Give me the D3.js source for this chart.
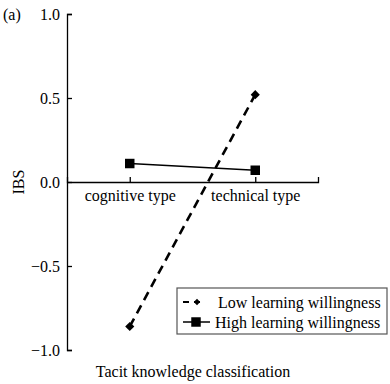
<!DOCTYPE html>
<html lang="en">
<head>
    <meta charset="utf-8">
    <title>IBS by tacit knowledge</title>
    <style>
        body {
            margin: 0;
            background: #fff;
            font-family: "Liberation Serif", "Times New Roman", serif;
        }
        .axis text {
            font-family: "Liberation Serif", serif;
            font-size: 16px;
            fill: #000;
        }
        .axis path, .axis line {
            stroke: #000;
            stroke-width: 1.3;
        }
    </style>
</head>
<body>
<svg class="chart"></svg>
<script src="https://d3js.org/d3.v7.min.js"></script>
<script>

  const width = 390;
  const height = 384;

  const categories = ["cognitive type", "technical type"];
  const lowValues = [-0.86, 0.52];
  const highValues = [0.11, 0.07];
  const seriesNames = ["Low learning willingness", "High learning willingness"];
  const yTicks = [-1.0, -0.5, 0.0, 0.5, 1.0];

  const svg = d3.select(".chart")
    .attr("width", width)
    .attr("height", height);

  const xScale = d3.scalePoint()
    .domain(categories)
    .range([67, 318])
    .padding(0.5);

  const yScale = d3.scaleLinear()
    .domain([-1, 1])
    .range([350, 14]);

  const minus = s => s.replace("-", "\u2212");

  // y axis
  svg.append("g")
    .attr("class", "axis")
    .attr("transform", "translate(67,0)")
    .call(d3.axisLeft(yScale)
      .tickValues(yTicks)
      .tickFormat(d => minus(d3.format(".1f")(d)))
      .tickSizeInner(-5)
      .tickSizeOuter(-5)
      .tickPadding(7))
    .selectAll("text")
    .attr("dy", "0.35em");

  // x axis through zero
  const xAxis = svg.append("g")
    .attr("class", "axis")
    .attr("transform", `translate(0,${yScale(0)})`)
    .call(d3.axisBottom(xScale)
      .tickSizeInner(-5)
      .tickSizeOuter(-5)
      .tickPadding(8));

  xAxis.selectAll("text").attr("fill", "#000");

  // series
  const line = d3.line()
    .x((d, i) => xScale(categories[i]))
    .y(d => yScale(d));

  svg.append("path")
    .datum(lowValues)
    .attr("d", line)
    .attr("fill", "none")
    .attr("stroke", "#000")
    .attr("stroke-width", 2.6)
    .attr("stroke-dasharray", "9,6");

  svg.append("path")
    .datum(highValues)
    .attr("d", line)
    .attr("fill", "none")
    .attr("stroke", "#000")
    .attr("stroke-width", 1.5);

  // diamond = square turned 45 degrees
  const diamond = d3.symbol().type(d3.symbolSquare).size(42);
  const smallDiamond = d3.symbol().type(d3.symbolSquare).size(20);
  const square = d3.symbol().type(d3.symbolSquare).size(90);

  svg.selectAll(".low-pt")
    .data(lowValues)
    .enter()
    .append("path")
    .attr("class", "low-pt")
    .attr("d", diamond)
    .attr("transform", (d, i) => `translate(${xScale(categories[i])},${yScale(d)}) rotate(45)`)
    .attr("fill", "#000");

  svg.selectAll(".high-pt")
    .data(highValues)
    .enter()
    .append("path")
    .attr("class", "high-pt")
    .attr("d", square)
    .attr("transform", (d, i) => `translate(${xScale(categories[i])},${yScale(d)})`)
    .attr("fill", "#000");

  // labels
  svg.append("text")
    .attr("x", 3)
    .attr("y", 20)
    .attr("font-size", 16)
    .text("(a)");

  svg.append("text")
    .attr("transform", `translate(24,${yScale(0)}) rotate(-90)`)
    .attr("text-anchor", "middle")
    .attr("font-size", 16)
    .text("IBS");

  svg.append("text")
    .attr("x", 193)
    .attr("y", 377)
    .attr("text-anchor", "middle")
    .attr("font-size", 16)
    .text("Tacit knowledge classification");

  // legend
  const legend = svg.append("g").attr("transform", "translate(177,288)");

  legend.append("rect")
    .attr("width", 210)
    .attr("height", 46)
    .attr("fill", "#fff")
    .attr("stroke", "#555")
    .attr("stroke-width", 1.2);

  const rows = legend.selectAll(".row")
    .data(seriesNames)
    .enter()
    .append("g")
    .attr("transform", (d, i) => `translate(0,${14 + i * 20})`);

  rows.append("line")
    .attr("x1", 6)
    .attr("x2", (d, i) => i === 0 ? 27 : 33)
    .attr("stroke", "#000")
    .attr("stroke-width", (d, i) => i === 0 ? 2.2 : 1.5)
    .attr("stroke-dasharray", (d, i) => i === 0 ? "6,5" : null);

  rows.append("path")
    .attr("d", (d, i) => i === 0 ? smallDiamond() : square())
    .attr("transform", (d, i) => i === 0 ? "translate(20,0) rotate(45)" : "translate(19,0)")
    .attr("fill", "#000");

  rows.append("text")
    .attr("x", (d, i) => i === 0 ? 41 : 38)
    .attr("dy", "0.35em")
    .attr("font-size", 16)
    .text(d => d);

</script>

</body>
</html>
